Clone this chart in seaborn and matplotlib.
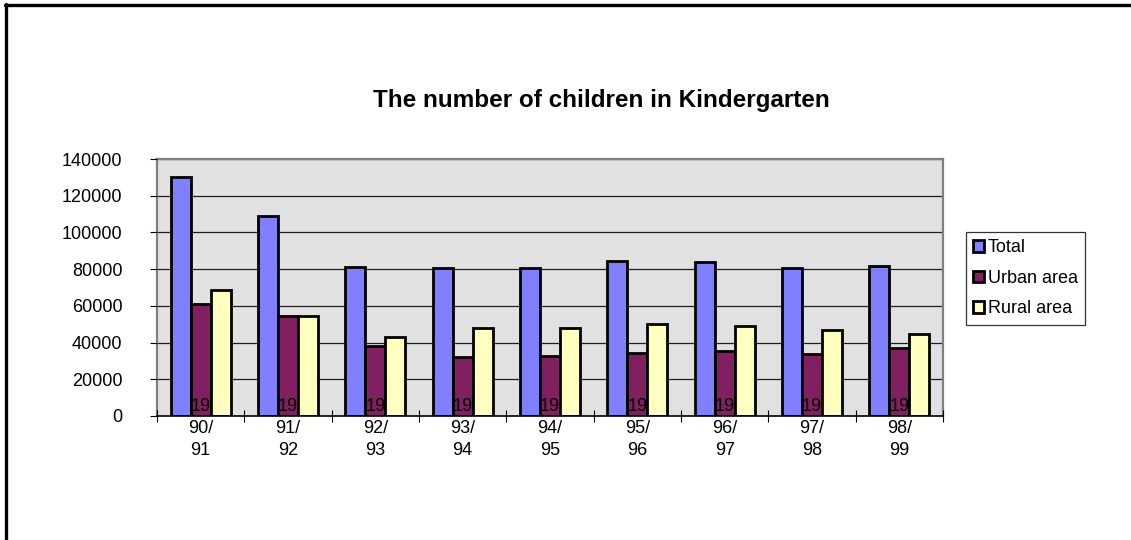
import numpy as np
import pandas as pd
import matplotlib
matplotlib.use("Agg")
import matplotlib.pyplot as plt
from matplotlib.lines import Line2D
import seaborn as sns

years = ["19\n90/\n91", "19\n91/\n92", "19\n92/\n93", "19\n93/\n94", "19\n94/\n95",
         "19\n95/\n96", "19\n96/\n97", "19\n97/\n98", "19\n98/\n99"]
total = [130000, 108800, 81200, 80500, 80500, 84600, 84100, 80500, 81700]
urban = [61200, 54700, 38000, 32300, 32700, 34500, 35400, 33800, 36900]
rural = [68900, 54500, 43000, 48000, 47800, 50100, 49000, 46700, 44900]
series = ["Total", "Urban area", "Rural area"]
colors = ["#8080FF", "#802060", "#FFFFC0"]

df = pd.DataFrame({"year": years, "Total": total, "Urban area": urban, "Rural area": rural})
long_df = df.melt(id_vars="year", var_name="series", value_name="children")

sns.set_theme(style="white")
plt.rcParams["font.family"] = ["Liberation Sans", "DejaVu Sans"]
plt.rcParams.update({
    "text.color": "black",
    "xtick.color": "black",
    "ytick.color": "black",
})

fig = plt.figure(figsize=(11.31, 5.40), dpi=100)
ax = fig.add_axes([157 / 1131, 1 - 416 / 540, (943 - 157) / 1131, (416 - 159) / 540])
ax.set_facecolor("#E1E1E1")

sns.barplot(data=long_df, x="year", y="children", hue="series", hue_order=series,
            palette=colors, width=0.687, gap=0, edgecolor="black", linewidth=2.0,
            saturation=1, ax=ax, zorder=2)

ax.set_ylim(0, 140000)
ax.set_xlim(-0.5, len(years) - 0.5)
ax.set_yticks(np.arange(0, 140001, 20000))
# grid drawn by hand so the wrapped "19" of the tick labels sits over the bars
ax.set_axisbelow(False)
for y in ax.get_yticks()[1:]:
    ax.axhline(y, color="#202020", linewidth=0.9, zorder=1)
ax.set_xlabel("")
ax.set_ylabel("")

for side in ["left", "top", "right"]:
    ax.spines[side].set_color("#808080")
    ax.spines[side].set_linewidth(1.6)
ax.spines["bottom"].set_color("black")
ax.spines["bottom"].set_linewidth(1.2)

ax.set_xticks(range(len(years)))
ax.set_xticklabels(years, fontsize=13, linespacing=1.38)
ax.set_xticks(np.arange(-0.5, len(years), 1), minor=True)
ax.tick_params(axis="x", which="major", length=0, pad=-13)
ax.tick_params(axis="x", which="minor", direction="inout", length=8, width=0.8,
               bottom=True)
ax.tick_params(axis="y", direction="out", length=5, width=0.8,
               left=True, pad=20, labelsize=13)

leg = ax.legend(loc="upper left", bbox_to_anchor=(966 / 1131, 1 - 232 / 540),
                bbox_transform=fig.transFigure, fontsize=13, frameon=True,
                fancybox=False, edgecolor="black", handlelength=0.6,
                handleheight=0.6, handletextpad=0.2, labelspacing=0.75,
                borderpad=0.4, borderaxespad=0)
leg.get_frame().set_linewidth(0.9)
for h in leg.legend_handles:
    h.set_linewidth(2.0)

fig.text(601 / 1131, 1 - 101 / 540,
         "The number of children in Kindergarten",
         ha="center", va="center", fontsize=17.5, fontweight="bold")

fig.add_artist(Line2D([6 / 1131, 6 / 1131], [0, 1 - 4 / 540], color="black",
                      linewidth=2.4, transform=fig.transFigure))
fig.add_artist(Line2D([5 / 1131, 1], [1 - 5 / 540, 1 - 5 / 540], color="black",
                      linewidth=2.4, transform=fig.transFigure))

fig.savefig("out.png", dpi=100)
